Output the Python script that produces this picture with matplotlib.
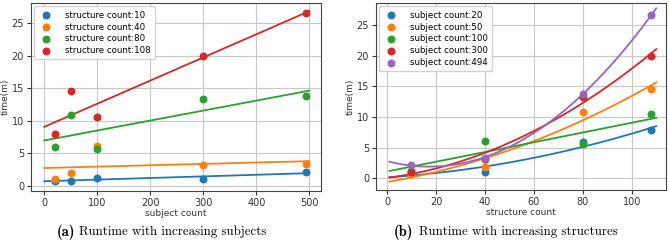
import numpy as np
import matplotlib
matplotlib.use('Agg')
import matplotlib.pyplot as plt

subjects = [20, 50, 100, 300, 494]
structures = [10, 40, 80, 108]

# runtime in minutes, rows = structure count, cols = subject count
time_by_structure = {
    10: [0.8, 0.7, 1.2, 1.1, 2.1],
    40: [1.1, 1.9, 6.1, 3.2, 3.4],
    80: [6.0, 10.9, 5.6, 13.3, 13.8],
    108: [7.9, 14.6, 10.5, 20.0, 26.6],
}

colors = ['#1f77b4', '#ff7f0e', '#2ca02c', '#d62728', '#9467bd']

fig = plt.figure(figsize=(6.69, 2.43), dpi=100)
ax1 = fig.add_axes([31 / 669, 1 - 191 / 243, 290 / 669, 188 / 243])
ax2 = fig.add_axes([376 / 669, 1 - 190 / 243, 290 / 669, 187 / 243])

for ax in (ax1, ax2):
    ax.grid(True, color='#c8c8c8', linewidth=0.8)
    ax.set_axisbelow(True)
    for s in ax.spines.values():
        s.set_color('#444444')
    ax.tick_params(labelsize=7, colors='#333333', length=3, pad=2)

leg_kw = dict(loc='upper left', fontsize=6.2, handletextpad=1.4, borderpad=0.5,
              labelspacing=0.32, handlelength=1.6, borderaxespad=0.4, framealpha=0.9)

# (a) runtime vs subjects, linear fit
xs = np.linspace(0, 500, 50)
for i, st in enumerate(structures):
    y = time_by_structure[st]
    ax1.scatter(subjects, y, s=22, color=colors[i], label=f'structure count:{st}', zorder=3)
    k = np.polyfit(subjects, y, 1)
    ax1.plot(xs, np.polyval(k, xs), color=colors[i], linewidth=1.3)
ax1.set_xlim(-25, 522)
ax1.set_ylim(-0.8, 28.1)
ax1.set_xticks(range(0, 501, 100))
ax1.set_yticks(range(0, 26, 5))
ax1.set_xlabel('subject count', fontsize=6.5, labelpad=1, color='#333333')
ax1.set_ylabel('time(m)', fontsize=6.5, labelpad=1, color='#333333')
ax1.legend(**leg_kw)

# (b) runtime vs structures, quadratic fit
xs2 = np.linspace(1, 110, 60)
for j, sub in enumerate(subjects):
    y = [time_by_structure[st][j] for st in structures]
    ax2.scatter(structures, y, s=22, color=colors[j], label=f'subject count:{sub}', zorder=3)
    k = np.polyfit(structures, y, 2)
    ax2.plot(xs2, np.polyval(k, xs2), color=colors[j], linewidth=1.3)
ax2.set_xlim(-4.5, 114)
ax2.set_ylim(-1.9, 28.6)
ax2.set_xticks(range(0, 101, 20))
ax2.set_yticks(range(0, 26, 5))
ax2.set_xlabel('structure count', fontsize=6.5, labelpad=1, color='#333333')
ax2.set_ylabel('time(m)', fontsize=6.5, labelpad=1, color='#333333')
ax2.legend(**leg_kw)

cy = 1 - 232 / 243
fig.text(57 / 669, cy, '(a)', family='cmb10', fontsize=10.5, va='center')
fig.text(79 / 669, cy, 'Runtime with increasing subjects', family='cmr10', fontsize=9.3, va='center')
fig.text(394 / 669, cy, '(b)', family='cmb10', fontsize=10.5, va='center')
fig.text(419 / 669, cy, 'Runtime with increasing structures', family='cmr10', fontsize=9.3, va='center')

fig.savefig('out.png', dpi=100)
